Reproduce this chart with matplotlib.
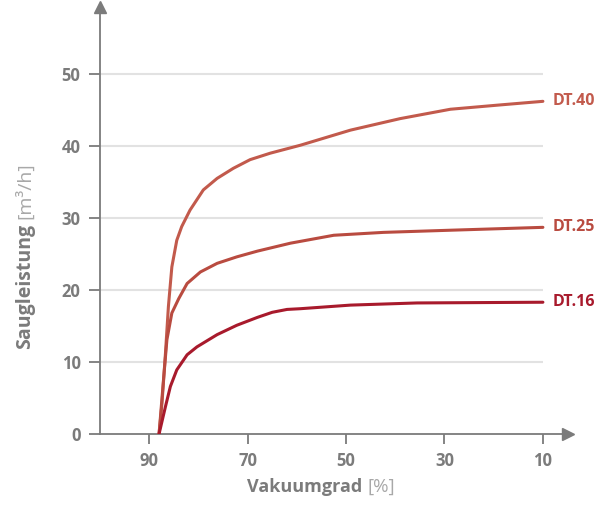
import matplotlib.pyplot as plt

# Vakuumgrad [%] und Saugleistung [m3/h]
x_dt40 = [88, 87.4, 86.7, 86.1, 85.4, 84.4, 83.4, 81.7, 79.0, 76.2, 72.9, 69.5, 65.4,
          59.3, 49.1, 39.0, 28.8, 18.7, 10]
y_dt40 = [0, 4.3, 11.2, 17.7, 23.2, 26.9, 28.8, 31.1, 33.9, 35.5, 36.9, 38.1, 39.0,
          40.1, 42.2, 43.8, 45.1, 45.7, 46.2]

x_dt25 = [88, 87.1, 86.4, 85.4, 84.0, 82.3, 79.6, 76.2, 72.2, 68, 61.3, 52.5, 42.4,
          28.8, 10]
y_dt25 = [0, 7.5, 13.1, 16.8, 18.8, 20.9, 22.5, 23.7, 24.6, 25.4, 26.5, 27.6, 28.0,
          28.3, 28.7]

x_dt16 = [88, 86.7, 85.7, 84.4, 82.3, 80.3, 76.2, 72.2, 68, 65, 62.0, 59.3, 49.1,
          35.6, 10]
y_dt16 = [0, 3.8, 6.6, 8.9, 11.0, 12.1, 13.8, 15.1, 16.2, 16.9, 17.3, 17.4, 17.9,
          18.2, 18.3]

series = [('DT.40', x_dt40, y_dt40, '#c25a4c'),
          ('DT.25', x_dt25, y_dt25, '#b94b40'),
          ('DT.16', x_dt16, y_dt16, '#a81a2c')]

x_ticks = [90, 70, 50, 30, 10]
y_ticks = [0, 10, 20, 30, 40, 50]

grey = '#7b7b7b'
light = '#a8a8a8'
font = 'Open Sans'

W, H = 607, 505
fig = plt.figure(figsize=(W / 100, H / 100), dpi=100)
ax = fig.add_axes([100 / W, 71 / H, 468 / W, 427 / H])

# Gitterlinien nur bis x=10
ax.hlines(y_ticks[1:], 100, 10, color='#e2e2e2', linewidth=1.5, zorder=1)

for name, xs, ys, col in series:
    ax.plot(xs, ys, color=col, linewidth=2.2, zorder=3,
            solid_capstyle='round', solid_joinstyle='round')
    ax.text(8, ys[-1], name, color=col, fontsize=11.5, fontweight='bold',
            family=font, va='center', ha='left', clip_on=False)

ax.set_xlim(100, 4.9)
ax.set_ylim(0, 59.3)

for s in ['top', 'right']:
    ax.spines[s].set_visible(False)
for s in ['left', 'bottom']:
    ax.spines[s].set_color(grey)
    ax.spines[s].set_linewidth(1.3)

# Pfeile an den Achsenenden
ax.plot(1, 0, '>', color=grey, markersize=9, transform=ax.transAxes, clip_on=False)
ax.plot(0, 1, '^', color=grey, markersize=9, transform=ax.transAxes, clip_on=False)

ax.set_xticks(x_ticks)
ax.set_yticks(y_ticks)
ax.tick_params(axis='both', colors=grey, width=1.3, labelsize=12)
ax.tick_params(axis='y', length=8, pad=6)
ax.tick_params(axis='x', length=7, pad=6)
for lab in ax.get_xticklabels() + ax.get_yticklabels():
    lab.set_family(font)
    lab.set_fontweight('bold')

# Achsentitel aus fett + hell zusammengesetzt, Breite ueber den Renderer messen
renderer = fig.canvas.get_renderer()
gap = 5

t1 = fig.text(0, 0, 'Saugleistung', rotation=90, color=grey, fontsize=14,
              fontweight='bold', family=font, ha='center', va='bottom')
t2 = fig.text(0, 0, '[m³/h]', rotation=90, color=light, fontsize=14,
              family=font, ha='center', va='bottom')
h1 = t1.get_window_extent(renderer).height
h2 = t2.get_window_extent(renderer).height
y0 = (H - 255.5) - (h1 + gap + h2) / 2
t1.set_position((25 / W, y0 / H))
t2.set_position((25 / W, (y0 + h1 + gap) / H))

t3 = fig.text(0, 0, 'Vakuumgrad', color=grey, fontsize=13, fontweight='bold',
              family=font, ha='left', va='center')
t4 = fig.text(0, 0, '[%]', color=light, fontsize=13.5, family=font,
              ha='left', va='center')
w3 = t3.get_window_extent(renderer).width
w4 = t4.get_window_extent(renderer).width
x0 = 321 - (w3 + gap + w4) / 2
t3.set_position((x0 / W, 1 - 487 / H))
t4.set_position(((x0 + w3 + gap) / W, 1 - 487 / H))

fig.savefig('out.png', dpi=100)
